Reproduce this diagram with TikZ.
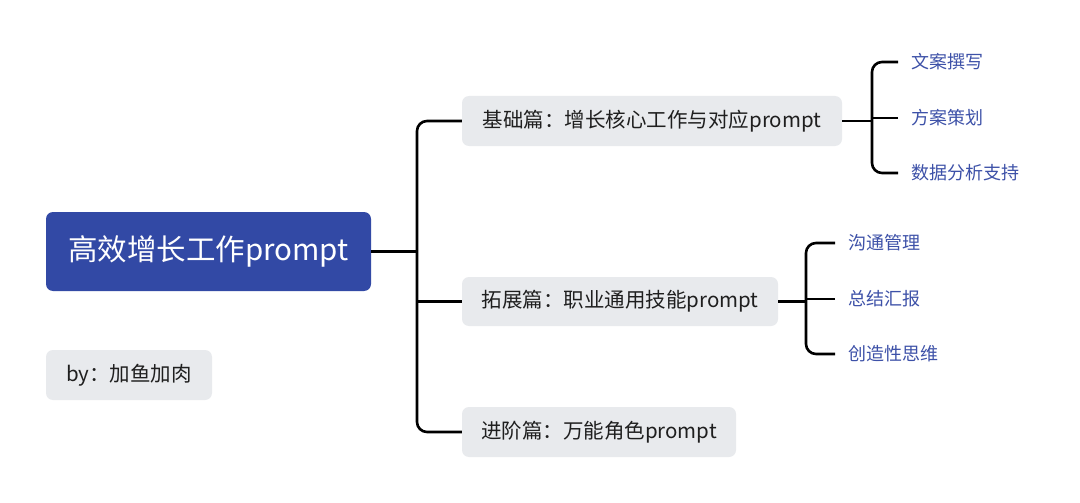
\documentclass[tikz,border=0pt]{standalone}
\usepackage{fontspec}
\setmainfont{Noto Sans CJK SC}
\definecolor{mainblue}{HTML}{3249A5}
\definecolor{leafblue}{HTML}{3D51A8}
\definecolor{boxgray}{HTML}{E8EAED}
\definecolor{txt}{HTML}{1F1F1F}
\begin{document}
\begin{tikzpicture}[x=1pt,y=-1pt,
  rootbox/.style={fill=mainblue,rounded corners=7pt,text=white,inner sep=0pt,
    font=\fontsize{29.5}{33}\selectfont},
  topicbox/.style={fill=boxgray,rounded corners=7pt,text=txt,inner sep=0pt,
    font=\fontsize{20.5}{24}\selectfont},
  leaf/.style={anchor=west,text=leafblue,inner xsep=13pt,inner ysep=0pt,
    font=\fontsize{18}{21}\selectfont},
  conn/.style={line width=2.6pt,draw=black,rounded corners=10pt}]
\useasboundingbox (0,0) rectangle (1080,503);
\fill[white] (0,0) rectangle (1080,503);

\node[rootbox,minimum width=325pt,minimum height=79pt] (main) at (208.5,251.5) {高效增长工作prompt};
\node[topicbox,minimum width=166pt,minimum height=50pt] (by) at (129,375) {by：加鱼加肉};

\node[topicbox,minimum width=380pt,minimum height=50pt] (b1) at (652,121) {基础篇：增长核心工作与对应prompt};
\node[topicbox,minimum width=316pt,minimum height=49pt] (b2) at (620,301.5) {拓展篇：职业通用技能prompt};
\node[topicbox,minimum width=274pt,minimum height=50pt] (b3) at (599,432) {进阶篇：万能角色prompt};

\node[leaf] (l11) at (898,62) {文案撰写};
\node[leaf] (l12) at (898,118) {方案策划};
\node[leaf] (l13) at (898,173) {数据分析支持};
\node[leaf] (l21) at (835,243) {沟通管理};
\node[leaf] (l22) at (835,299) {总结汇报};
\node[leaf] (l23) at (835,354) {创造性思维};

\coordinate (tr) at (417,0);
\coordinate (tr1) at (872,0);
\coordinate (tr2) at (806,0);

\draw[conn] (b1.west) -- (b1.west -| tr) -- (b3.west -| tr) -- (b3.west);
\draw[conn] (main.east) -- (main.east -| tr);
\draw[conn] (b2.west) -- (b2.west -| tr);

\draw[conn] (l11.west) -- (l11.west -| tr1) -- (l13.west -| tr1) -- (l13.west);
\draw[conn] (b1.east) -- (b1.east -| tr1);
\draw[conn] (l12.west) -- (l12.west -| tr1);

\draw[conn] (l21.west) -- (l21.west -| tr2) -- (l23.west -| tr2) -- (l23.west);
\draw[conn] (b2.east) -- (b2.east -| tr2);
\draw[conn] (l22.west) -- (l22.west -| tr2);
\end{tikzpicture}
\end{document}
